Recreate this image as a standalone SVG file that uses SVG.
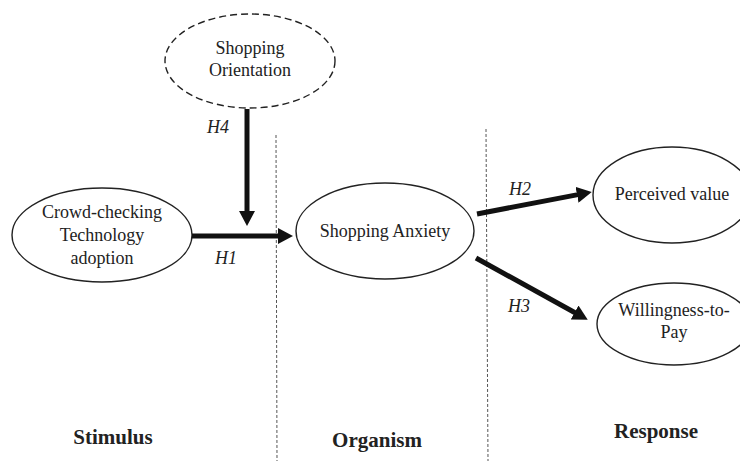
<svg xmlns="http://www.w3.org/2000/svg" width="740" height="461" viewBox="0 0 740 461">
  <defs>
    <marker id="ah" markerUnits="userSpaceOnUse" markerWidth="15" markerHeight="16" viewBox="0 0 15 16" refX="1" refY="8" orient="auto">
      <path d="M0,0 L15,8 L0,16 z" fill="#111"/>
    </marker>
    <style>
      .node { fill: #fff; stroke: #222; stroke-width: 1.4; }
      .dashnode { fill: #fff; stroke: #222; stroke-width: 1.4; stroke-dasharray: 7 4; }
      .t { font-family: "Liberation Serif", "Times New Roman", serif; font-size: 18px; fill: #222; text-anchor: middle; }
      .h { font-family: "Liberation Serif", "Times New Roman", serif; font-size: 18px; font-style: italic; fill: #222; }
      .sec { font-family: "Liberation Serif", "Times New Roman", serif; font-size: 21px; font-weight: bold; fill: #222; text-anchor: middle; }
      .div { stroke: #555; stroke-width: 1; stroke-dasharray: 3 2; fill: none; }
      .arr { stroke: #111; stroke-width: 5; fill: none; marker-end: url(#ah); }
    </style>
  </defs>

  <rect width="740" height="461" fill="#fff"/>

  <g id="dividers">
    <line class="div" x1="276" y1="135" x2="277" y2="461"/>
    <line class="div" x1="486" y1="129" x2="488" y2="461"/>
  </g>

  <g id="node-shopping-orientation">
    <ellipse class="dashnode" cx="250" cy="61" rx="85" ry="47"/>
    <text class="t" x="250" y="54">Shopping</text>
    <text class="t" x="250" y="76">Orientation</text>
  </g>

  <g id="node-crowd-checking">
    <ellipse class="node" cx="102" cy="235" rx="90" ry="47"/>
    <text class="t" x="102" y="218">Crowd-checking</text>
    <text class="t" x="102" y="241">Technology</text>
    <text class="t" x="102" y="264">adoption</text>
  </g>

  <g id="node-shopping-anxiety">
    <ellipse class="node" cx="385" cy="231" rx="89" ry="48"/>
    <text class="t" x="385" y="237">Shopping Anxiety</text>
  </g>

  <g id="node-perceived-value">
    <ellipse class="node" cx="672" cy="195" rx="79" ry="48"/>
    <text class="t" x="672" y="200">Perceived value</text>
  </g>

  <g id="node-willingness">
    <ellipse class="node" cx="674" cy="324" rx="77" ry="41"/>
    <text class="t" x="674" y="316">Willingness-to-</text>
    <text class="t" x="674" y="338">Pay</text>
  </g>

  <g id="connectors">
    <line class="arr" x1="192" y1="236" x2="279" y2="236"/>
    <line class="arr" x1="247" y1="109" x2="247" y2="212"/>
    <line class="arr" x1="477" y1="214" x2="578" y2="194.6"/>
    <line class="arr" x1="476" y1="258" x2="575.5" y2="313"/>
  </g>

  <g id="labels">
    <text class="h" x="207" y="133">H4</text>
    <text class="h" x="215" y="264">H1</text>
    <text class="h" x="509" y="195">H2</text>
    <text class="h" x="508" y="312">H3</text>
    <text class="sec" x="113" y="444">Stimulus</text>
    <text class="sec" x="377" y="447">Organism</text>
    <text class="sec" x="656" y="438">Response</text>
  </g>
</svg>
